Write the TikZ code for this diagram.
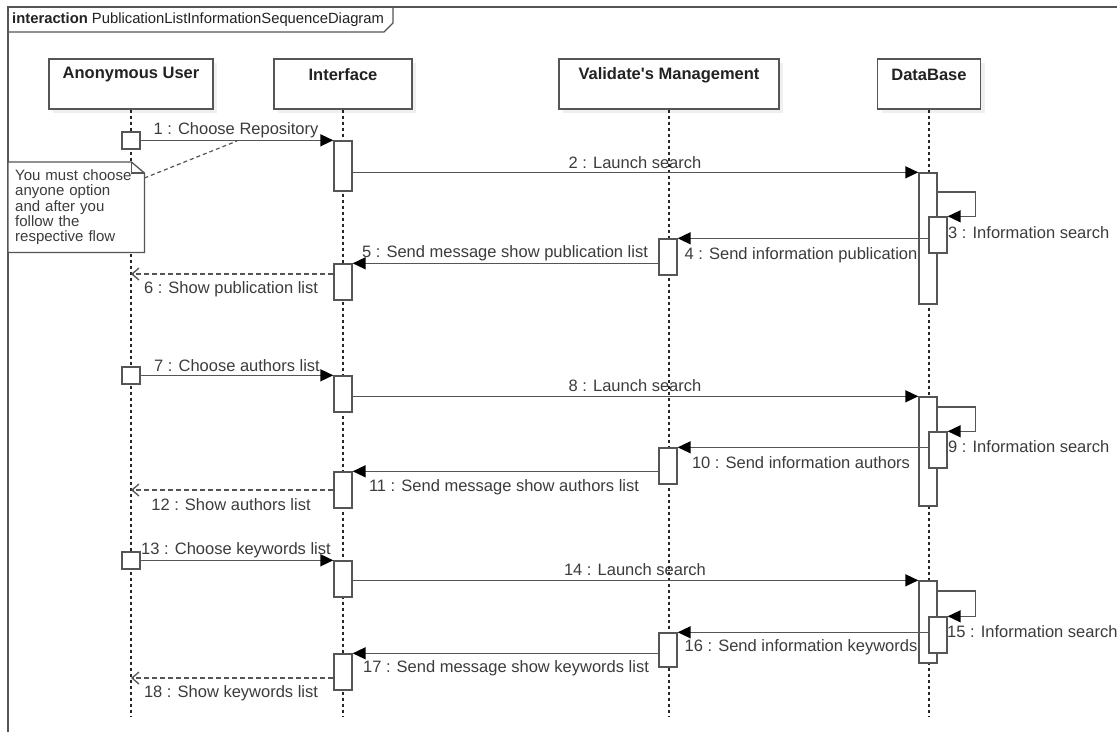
\documentclass[tikz,border=0pt]{standalone}
\usepackage{fontspec}
\setmainfont{Liberation Sans}
\usetikzlibrary{arrows.meta,shadows,calc}
\definecolor{ln}{HTML}{555555}
\definecolor{tx}{HTML}{3C3C3C}
\definecolor{hd}{HTML}{222222}
\tikzset{
  actor/.style={draw=ln, line width=1.4pt, fill=white, minimum height=50, inner sep=0,
    drop shadow={shadow xshift=4pt, shadow yshift=-4pt, opacity=0.12, fill=gray}},
  hdtext/.style={font=\fontsize{16.5}{19}\selectfont\bfseries, text=hd, inner sep=0},
  lifeline/.style={draw=black!85, line width=1.2pt, dash pattern=on 3pt off 3pt},
  act/.style={draw=ln, line width=1.4pt, fill=white, minimum width=18, inner sep=0},
  msg/.style={draw=ln, line width=1.5pt, -{Triangle[length=13pt,width=12pt,color=black]}},
  ret/.style={draw=ln, line width=1.3pt, dash pattern=on 5pt off 3pt, -{Straight Barb[length=7pt,width=12pt]}},
  lbl/.style={font=\fontsize{16.5}{19}\selectfont, text=tx, inner sep=0},
  notetext/.style={font=\fontsize{15}{15.3}\selectfont, text=tx, align=left, text width=122, inner xsep=7, inner ysep=0, minimum height=90, minimum width=132, anchor=north west},
}
\begin{document}
\begin{tikzpicture}[x=1pt,y=-1pt]
\useasboundingbox (0,0) rectangle (1117,732);
\fill[white] (0,0) rectangle (1117,732);
% frame
\draw[ln, line width=1.5pt] (1117,7) -- (8,7) -- (8,732);
\draw[ln, line width=1.3pt] (8,32) -- (384,32) -- (393,23) -- (393,7);
\node[anchor=west, inner sep=0, text=hd, font=\fontsize{14.8}{17}\selectfont] (title) at (12,20) {\textbf{interaction} PublicationListInformationSequenceDiagram};

% actors
\node[actor, minimum width=164] (A) at (131,84) {};
\node[actor, minimum width=138] (I) at (343,84) {};
\node[actor, minimum width=220] (V) at (669,84) {};
\node[actor, minimum width=103] (D) at (929,84) {};
\node[hdtext] (At) at (131,75) {Anonymous User};
\node[hdtext] (It) at (343,75) {Interface};
\node[hdtext] (Vt) at (669,75) {Validate\textquotesingle s Management};
\node[hdtext] (Dt) at (929,75) {DataBase};

% lifelines
\coordinate (bot) at (0,717);
\foreach \n in {A,I,V,D} {\draw[lifeline] (\n.south) -- (\n.south |- bot);}

% activations section 1
\node[act, minimum height=17] (U1) at (131,140.5) {};
\node[act, minimum height=50] (I1) at (343,166) {};
\node[act, minimum height=131] (D1) at (928,238.5) {};
\node[act, minimum height=36] (N1) at (938,235) {};
\node[act, minimum height=36] (V1) at (668,257) {};
\node[act, minimum height=36] (I2) at (343,282) {};
% section 2
\node[act, minimum height=17] (U2) at (131,375.5) {};
\node[act, minimum height=36] (I3) at (343,394) {};
\node[act, minimum height=109] (D2) at (928,451.5) {};
\node[act, minimum height=36] (N2) at (938,450) {};
\node[act, minimum height=36] (V2) at (668,466) {};
\node[act, minimum height=36] (I4) at (343,490) {};
% section 3
\node[act, minimum height=17] (U3) at (131,560.5) {};
\node[act, minimum height=36] (I5) at (343,579) {};
\node[act, minimum height=82] (D3) at (928,622) {};
\node[act, minimum height=36] (N3) at (938,635) {};
\node[act, minimum height=34] (V3) at (668,650) {};
\node[act, minimum height=36] (I6) at (343,672) {};

% messages section 1
\draw[msg] (U1.east |- I1.north) -- (I1.north west);
\draw[msg] (I1.east |- D1.north) -- (D1.north west);
\draw[msg] (D1.east |- 0,192) -| ([xshift=28pt]N1.north east) -- (N1.north east);
\draw[msg] (N1.west |- V1.north) -- (V1.north east);
\draw[msg] (V1.west |- I2.north) -- (I2.north east);
\draw[ret] (I2.west |- 0,274) -- (A |- 0,274);
% section 2
\draw[msg] (U2.east |- I3.north) -- (I3.north west);
\draw[msg] (I3.east |- D2.north) -- (D2.north west);
\draw[msg] (D2.east |- 0,407) -| ([xshift=28pt]N2.north east) -- (N2.north east);
\draw[msg] (N2.west |- V2.north) -- (V2.north east);
\draw[msg] (V2.west |- I4.north) -- (I4.north east);
\draw[ret] (I4.west |- 0,490) -- (A |- 0,490);
% section 3
\draw[msg] (U3.east |- I5.north) -- (I5.north west);
\draw[msg] (I5.east |- D3.north) -- (D3.north west);
\draw[msg] (D3.east |- 0,591) -| ([xshift=28pt]N3.north east) -- (N3.north east);
\draw[msg] (N3.west |- V3.north) -- (V3.north east);
\draw[msg] (V3.west |- I6.north) -- (I6.north east);
\draw[ret] (I6.west |- 0,678) -- (A |- 0,678);

% labels
\node[lbl] (l1) at (236,130) {1 : Choose Repository};
\node[lbl] (l2) at (635,163) {2 : Launch search};
\node[lbl, anchor=west] (l3) at (948,233) {3 : Information search};
\node[lbl] (l4) at (801,255) {4 : Send information publication};
\node[lbl] (l5) at (505,253) {5 : Send message show publication list};
\node[lbl] (l6) at (231,289) {6 : Show publication list};
\node[lbl] (l7) at (237,366) {7 : Choose authors list};
\node[lbl] (l8) at (635,386) {8 : Launch search};
\node[lbl, anchor=west] (l9) at (948,447) {9 : Information search};
\node[lbl] (l10) at (801,463) {10 : Send information authors};
\node[lbl] (l11) at (504,487) {11 : Send message show authors list};
\node[lbl] (l12) at (231,505) {12 : Show authors list};
\node[lbl] (l13) at (236,550) {13 : Choose keywords list};
\node[lbl] (l14) at (635,570) {14 : Launch search};
\node[lbl, anchor=west] (l15) at (947,632) {15 : Information search};
\node[lbl] (l16) at (801,647) {16 : Send information keywords};
\node[lbl] (l17) at (506,668) {17 : Send message show keywords list};
\node[lbl] (l18) at (231,693) {18 : Show keywords list};

% note
\node[notetext, fill=white] (nt) at (8,162) {You must choose\\anyone option\\and after you\\follow the\\respective flow};
\draw[ln, line width=1.3pt] (nt.north west) -- ([xshift=-13pt]nt.north east) -- ([yshift=-11pt]nt.north east) -- (nt.south east) -- (nt.south west) -- cycle;
\draw[ln, line width=1.1pt] ([xshift=-13pt]nt.north east) -- ([xshift=-13pt,yshift=-11pt]nt.north east) -- ([yshift=-11pt]nt.north east);
\coordinate (c1) at (237,141);
\draw[ln, line width=1.2pt, dash pattern=on 4pt off 3pt] ([yshift=-16pt]nt.north east) -- (c1);
\end{tikzpicture}
\end{document}
